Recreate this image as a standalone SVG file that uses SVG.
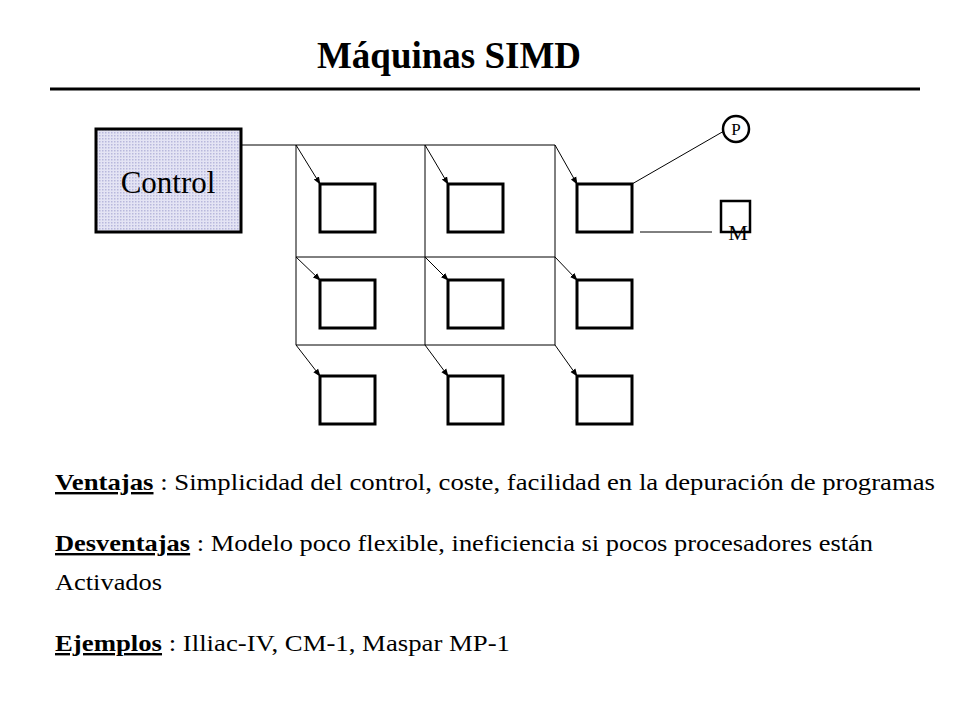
<svg xmlns="http://www.w3.org/2000/svg" width="960" height="720" viewBox="0 0 960 720">
<defs>
<pattern id="dots" width="3" height="3" patternUnits="userSpaceOnUse"><rect width="3" height="3" fill="#e4e4f4"/><rect width="1.5" height="1.5" fill="#b8b8dc"/></pattern>
<marker id="ah" markerWidth="8" markerHeight="8" refX="7" refY="4" orient="auto" markerUnits="userSpaceOnUse"><path d="M0,1 L8,4 L0,7 z" fill="#000"/></marker>
<style>
.pe{fill:#fff;stroke:#000;stroke-width:3}
.ln{stroke:#000;stroke-width:1;fill:none}
.t{font-family:"Liberation Serif",serif;font-size:24px}
</style>
</defs>
<rect width="960" height="720" fill="#fff"/>
<text x="449" y="68" text-anchor="middle" style="font-family:'Liberation Serif',serif;font-size:37px;font-weight:bold">Máquinas SIMD</text>
<line x1="50" y1="89" x2="920" y2="89" stroke="#000" stroke-width="3"/>
<g id="control"><rect x="96" y="129" width="145" height="103" fill="url(#dots)" stroke="#000" stroke-width="3"/><text x="168" y="193" text-anchor="middle" style="font-family:'Liberation Serif',serif;font-size:31px">Control</text></g>
<g id="connectors">
<path class="ln" d="M241,145 H555 V345 H296 V145 M425,145 V345 M296,257 H555"/>
<g marker-end="url(#ah)" class="ln">
<line x1="296" y1="145" x2="320" y2="184"/><line x1="425" y1="145" x2="448" y2="184"/><line x1="555" y1="145" x2="577" y2="184"/>
<line x1="296" y1="257" x2="320" y2="280"/><line x1="425" y1="257" x2="448" y2="280"/><line x1="555" y1="257" x2="577" y2="280"/>
<line x1="296" y1="345" x2="320" y2="376"/><line x1="425" y1="345" x2="448" y2="376"/><line x1="555" y1="345" x2="577" y2="376"/>
</g>
<line class="ln" x1="632" y1="184" x2="724" y2="131"/>
<line class="ln" x1="640" y1="232" x2="712" y2="232"/>
</g>
<g id="pe11"><rect class="pe" x="320" y="184" width="55" height="48"/></g>
<g id="pe12"><rect class="pe" x="448" y="184" width="55" height="48"/></g>
<g id="pe13"><rect class="pe" x="577" y="184" width="55" height="48"/></g>
<g id="pe21"><rect class="pe" x="320" y="280" width="55" height="48"/></g>
<g id="pe22"><rect class="pe" x="448" y="280" width="55" height="48"/></g>
<g id="pe23"><rect class="pe" x="577" y="280" width="55" height="48"/></g>
<g id="pe31"><rect class="pe" x="320" y="376" width="55" height="48"/></g>
<g id="pe32"><rect class="pe" x="448" y="376" width="55" height="48"/></g>
<g id="pe33"><rect class="pe" x="577" y="376" width="55" height="48"/></g>
<g id="P"><circle cx="736" cy="129" r="13" fill="#fff" stroke="#000" stroke-width="2.5"/><text x="736" y="135" text-anchor="middle" style="font-family:'Liberation Serif',serif;font-size:17px">P</text></g>
<g id="M"><rect x="721" y="201" width="29" height="31" fill="#fff" stroke="#000" stroke-width="2.5"/><text x="738" y="240" text-anchor="middle" style="font-family:'Liberation Serif',serif;font-size:22px">M</text></g>
<text class="t" x="55" y="490" textLength="880" lengthAdjust="spacingAndGlyphs"><tspan font-weight="bold" text-decoration="underline">Ventajas</tspan> : Simplicidad del control, coste, facilidad en la depuración de programas</text>
<text class="t" x="55" y="551" textLength="818" lengthAdjust="spacingAndGlyphs"><tspan font-weight="bold" text-decoration="underline">Desventajas</tspan> : Modelo poco flexible, ineficiencia si pocos procesadores están</text>
<text class="t" x="55" y="590" textLength="107" lengthAdjust="spacingAndGlyphs">Activados</text>
<text class="t" x="55" y="651" textLength="455" lengthAdjust="spacingAndGlyphs"><tspan font-weight="bold" text-decoration="underline">Ejemplos</tspan> : Illiac-IV, CM-1, Maspar MP-1</text>
</svg>
